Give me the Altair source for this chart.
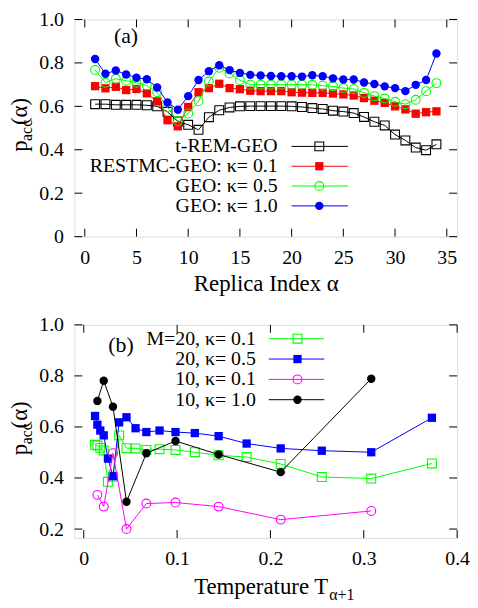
import altair as alt
import pandas as pd

FONT = "Liberation Serif, Times New Roman, Times, DejaVu Serif, serif"

# ---------------- panel (a) data ----------------
replica = list(range(1, 35))
t_rem_geo = [0.610, 0.610, 0.607, 0.607, 0.607, 0.605, 0.600, 0.575, 0.530, 0.515,
             0.492, 0.550, 0.582, 0.595, 0.600, 0.601, 0.601, 0.601, 0.601, 0.600,
             0.597, 0.592, 0.588, 0.580, 0.576, 0.569, 0.551, 0.529, 0.512, 0.470,
             0.443, 0.410, 0.398, 0.425]
restmc_01 = [0.693, 0.683, 0.690, 0.675, 0.680, 0.660, 0.623, 0.536, 0.508, 0.597,
             0.665, 0.684, 0.704, 0.684, 0.679, 0.672, 0.670, 0.670, 0.670, 0.665,
             0.663, 0.662, 0.662, 0.659, 0.655, 0.650, 0.638, 0.626, 0.616, 0.600,
             0.586, 0.566, 0.573, 0.577]
geo_05 = [0.767, 0.709, 0.727, 0.718, 0.709, 0.696, 0.665, 0.595, 0.531, 0.567,
          0.624, 0.714, 0.778, 0.752, 0.721, 0.700, 0.700, 0.700, 0.700, 0.700,
          0.700, 0.699, 0.695, 0.692, 0.684, 0.680, 0.662, 0.647, 0.636, 0.621,
          0.610, 0.630, 0.670, 0.707]
geo_10 = [0.818, 0.750, 0.765, 0.747, 0.732, 0.725, 0.687, 0.618, 0.584, 0.647,
          0.721, 0.762, 0.789, 0.767, 0.754, 0.745, 0.742, 0.740, 0.739, 0.739,
          0.737, 0.743, 0.739, 0.729, 0.724, 0.724, 0.710, 0.703, 0.692, 0.684,
          0.670, 0.699, 0.721, 0.843]

# ---------------- panel (b) data ----------------
temp_m20 = [0.0121, 0.0146, 0.0177, 0.0214, 0.0259, 0.0313, 0.0379, 0.0458, 0.0555,
            0.0671, 0.0812, 0.0983, 0.119, 0.1445, 0.1745, 0.211, 0.255, 0.308, 0.373]
m20_k01 = [0.530, 0.527, 0.518, 0.508, 0.385, 0.405, 0.567, 0.517, 0.516, 0.510,
           0.513, 0.510, 0.501, 0.489, 0.482, 0.455, 0.404, 0.398, 0.457]
m20_k05 = [0.643, 0.609, 0.586, 0.567, 0.476, 0.407, 0.618, 0.638, 0.595, 0.580,
           0.586, 0.580, 0.576, 0.564, 0.535, 0.516, 0.507, 0.501, 0.636]
temp_m10 = [0.0146, 0.0214, 0.0313, 0.0458, 0.0671, 0.0983, 0.1445, 0.211, 0.308]
m10_k01 = [0.334, 0.288, 0.497, 0.200, 0.300, 0.304, 0.288, 0.237, 0.271]
m10_k10 = [0.702, 0.781, 0.679, 0.307, 0.497, 0.545, 0.492, 0.423, 0.789]

a_xticks = [0, 5, 10, 15, 20, 25, 30, 35]
a_yticks = [0, 0.2, 0.4, 0.6, 0.8, 1.0]
b_xticks = [0, 0.1, 0.2, 0.3, 0.4]
b_yticks = [0.2, 0.4, 0.6, 0.8, 1.0]

W = 386
H1 = 219
H2 = 215
TL = 8  # inward tick length

label_expr = "datum.value == 0 ? '0' : format(datum.value, '.1f')"


def make_enc(xdom, ydom, xticks, yticks, xtitle, xlabelexpr=None):
    xa = dict(values=xticks, ticks=False, domain=False, grid=False, labelFont=FONT,
              labelFontSize=20, labelColor="black", labelPadding=11, labelFlush=False)
    if xlabelexpr:
        xa["labelExpr"] = xlabelexpr
    if xtitle:
        xa.update(title=xtitle, titleFont=FONT, titleFontSize=23, titleFontWeight="normal",
                  titleColor="black", titlePadding=5)
    else:
        xa["title"] = ""
    xenc = alt.X("x:Q", scale=alt.Scale(domain=xdom, nice=False, zero=False), axis=alt.Axis(**xa))
    yenc = alt.Y("y:Q", scale=alt.Scale(domain=ydom, nice=False, zero=False),
                 axis=alt.Axis(values=yticks, ticks=False, domain=False, grid=False, title="",
                               labelFont=FONT, labelFontSize=20, labelColor="black",
                               labelPadding=11, labelExpr=label_expr, labelFlush=False))
    return xenc, yenc


def tick_layers(xenc, yenc, xticks, yticks, H):
    xt = pd.DataFrame({"x": xticks})
    yt = pd.DataFrame({"y": yticks})
    st = dict(color="black", strokeWidth=1)
    return [
        alt.Chart(xt).mark_rule(**st).encode(x=xenc, y=alt.value(H), y2=alt.value(H - TL)),
        alt.Chart(xt).mark_rule(**st).encode(x=xenc, y=alt.value(0), y2=alt.value(TL)),
        alt.Chart(yt).mark_rule(**st).encode(y=yenc, x=alt.value(0), x2=alt.value(TL)),
        alt.Chart(yt).mark_rule(**st).encode(y=yenc, x=alt.value(W), x2=alt.value(W - TL)),
    ]


def series_layers(xs, ys, xenc, yenc, color, shape, filled, size):
    df = pd.DataFrame({"x": xs, "y": ys})
    line = alt.Chart(df).mark_line(color=color, strokeWidth=1).encode(x=xenc, y=yenc)
    pts = alt.Chart(df).mark_point(shape=shape, filled=filled, color=color, size=size,
                                   strokeWidth=1.1, opacity=1).encode(x=xenc, y=yenc)
    return [line, pts]


def legend_layers(label, color, shape, filled, size, ty, tx, lx1, lx2, mx):
    one = pd.DataFrame({"t": [label]})
    t = alt.Chart(one).mark_text(align="right", baseline="middle", font=FONT, fontSize=20,
                                 color="black").encode(text="t:N", x=alt.value(tx), y=alt.value(ty))
    r = alt.Chart(one).mark_rule(color=color, strokeWidth=1).encode(
        x=alt.value(lx1), x2=alt.value(lx2), y=alt.value(ty))
    p = alt.Chart(one).mark_point(shape=shape, filled=filled, color=color, size=size,
                                  strokeWidth=1.1, opacity=1).encode(x=alt.value(mx), y=alt.value(ty))
    return [r, p, t]


def ytitle_layers(H, xb, yc):
    out = []
    parts = [("p", 23, 0, yc + 24), ("acc", 16, 5, yc + 13), ("(α)", 23, 0, yc - 3)]
    for txt, fs, dx, ystart in parts:
        d = pd.DataFrame({"t": [txt]})
        out.append(alt.Chart(d).mark_text(align="left", baseline="alphabetic", angle=270,
                                          font=FONT, fontSize=fs, color="black").encode(
            text="t:N", x=alt.value(xb + dx), y=alt.value(ystart)))
    return out


# ---------------- panel (a) ----------------
xa, ya = make_enc([-1, 36], [0, 1], a_xticks, a_yticks, "Replica Index α")
layers_a = []
layers_a += series_layers(replica, t_rem_geo, xa, ya, "#000000", "square", False, 80)
layers_a += series_layers(replica, restmc_01, xa, ya, "#ff0000", "square", True, 70)
layers_a += series_layers(replica, geo_05, xa, ya, "#00ff00", "circle", False, 80)
layers_a += series_layers(replica, geo_10, xa, ya, "#0000ff", "circle", True, 72)
layers_a += tick_layers(xa, ya, a_xticks, a_yticks, H1)
leg_a = [("t-REM-GEO", "#000000", "square", False, 80),
         ("RESTMC-GEO: κ= 0.1", "#ff0000", "square", True, 70),
         ("GEO: κ= 0.5", "#00ff00", "circle", False, 80),
         ("GEO: κ= 1.0", "#0000ff", "circle", True, 72)]
for i, (lab, c, s, f, sz) in enumerate(leg_a):
    layers_a += legend_layers(lab, c, s, f, sz, 128 + 20 * i, 205, 219, 276, 247)
lab_a = pd.DataFrame({"t": ["(a)"]})
layers_a.append(alt.Chart(lab_a).mark_text(align="center", baseline="middle", font=FONT,
                                            fontSize=22, color="black").encode(
    text="t:N", x=alt.value(52), y=alt.value(17)))
layers_a += ytitle_layers(H1, -48, H1 / 2)

panel_a = alt.layer(*layers_a).properties(width=W, height=H1)

# ---------------- panel (b) ----------------
xb, yb = make_enc([-0.01, 0.4], [0.165, 1.0], b_xticks, b_yticks, None, label_expr)
layers_b = []
layers_b += series_layers(temp_m20, m20_k01, xb, yb, "#00ff00", "square", False, 80)
layers_b += series_layers(temp_m20, m20_k05, xb, yb, "#0000ff", "square", True, 70)
layers_b += series_layers(temp_m10, m10_k01, xb, yb, "#ff00ff", "circle", False, 80)
layers_b += series_layers(temp_m10, m10_k10, xb, yb, "#000000", "circle", True, 72)
layers_b += tick_layers(xb, yb, b_xticks, b_yticks, H2)
leg_b = [("M=20, κ= 0.1", "#00ff00", "square", False, 80),
         ("20, κ= 0.5", "#0000ff", "square", True, 70),
         ("10, κ= 0.1", "#ff00ff", "circle", False, 80),
         ("10, κ= 1.0", "#000000", "circle", True, 72)]
for i, (lab, c, s, f, sz) in enumerate(leg_b):
    layers_b += legend_layers(lab, c, s, f, sz, 14 + 20.5 * i, 183, 196, 252, 225)
lab_b = pd.DataFrame({"t": ["(b)"]})
layers_b.append(alt.Chart(lab_b).mark_text(align="center", baseline="middle", font=FONT,
                                            fontSize=22, color="black").encode(
    text="t:N", x=alt.value(47), y=alt.value(20)))
layers_b += ytitle_layers(H2, -48, H2 / 2)
xt1 = pd.DataFrame({"t": ["Temperature T"]})
xt2 = pd.DataFrame({"t": ["α+1"]})
layers_b.append(alt.Chart(xt1).mark_text(align="right", baseline="alphabetic", font=FONT,
                                          fontSize=23, color="black").encode(
    text="t:N", x=alt.value(256), y=alt.value(H2 + 56)))
layers_b.append(alt.Chart(xt2).mark_text(align="left", baseline="alphabetic", font=FONT,
                                          fontSize=16, color="black").encode(
    text="t:N", x=alt.value(257), y=alt.value(H2 + 63)))

panel_b = alt.layer(*layers_b).properties(width=W, height=H2)

chart = alt.vconcat(panel_a, panel_b, spacing=18).properties(
    padding={"left": 0, "top": -2, "right": 0, "bottom": 0}
).configure_view(stroke="black", strokeWidth=1.5).configure(background="white")

chart.save("out.html", embed_options={"renderer": "svg", "actions": False})
